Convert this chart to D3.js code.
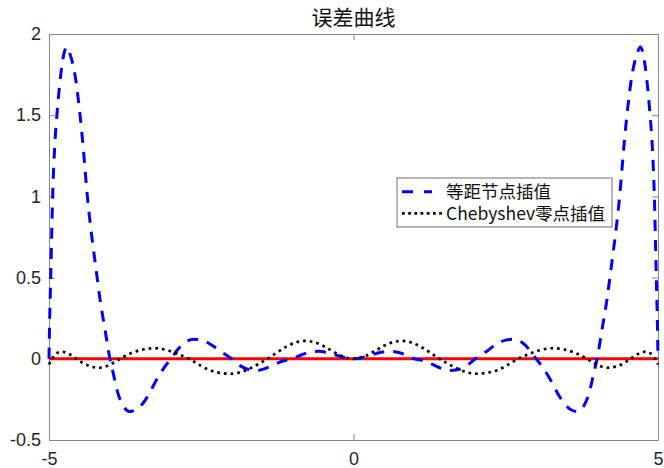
<!DOCTYPE html>
<html>
<head>
<meta charset="utf-8">
<script src="https://cdn.jsdelivr.net/npm/d3@7"></script>
<style>
  body { margin: 0; background: #fff; }
  svg { display: block; }
  .axis text { font-family: "Liberation Sans", Arial, sans-serif; font-size: 18px; fill: #262626; }
  .axis path, .axis line { stroke: #888; stroke-width: 1; }
</style>
</head>
<body>
<svg id="chart" width="664" height="468"></svg>
<script>
// values
const equiX = [-5.00, -4.995, -4.97, -4.94, -4.90, -4.87, -4.81, -4.76, -4.71, -4.65, -4.57, -4.49, -4.45, -4.37, -4.22, -4.16, -4.08, -4.00,
  -3.95, -3.87, -3.78, -3.68, -3.58, -3.47, -3.37, -3.25, -3.12, -3.00, -2.88, -2.77, -2.62, -2.50, -2.35, -2.20, -2.00,
  -1.85, -1.70, -1.58, -1.45, -1.30, -1.15, -1.00, -0.85, -0.70, -0.57, -0.45, -0.30, -0.15, 0.00,
  0.15, 0.30, 0.45, 0.57, 0.70, 0.85, 1.00, 1.15, 1.30, 1.45, 1.58, 1.70, 1.85, 2.00,
  2.20, 2.35, 2.50, 2.62, 2.77, 2.88, 3.00, 3.12, 3.25, 3.37, 3.47, 3.58, 3.68, 3.78, 3.87, 3.95,
  4.00, 4.08, 4.16, 4.22, 4.37, 4.45, 4.49, 4.57, 4.65, 4.71, 4.76, 4.81, 4.87, 4.90, 4.94, 4.97, 4.995, 5.00];
const equiErr = [0, 0.12, 0.53, 1.00, 1.35, 1.50, 1.74, 1.87, 1.92, 1.87, 1.74, 1.50, 1.35, 1.00, 0.53, 0.36, 0.18, 0,
  -0.08, -0.21, -0.29, -0.325, -0.315, -0.28, -0.225, -0.14, -0.06, 0, 0.06, 0.10, 0.12, 0.115, 0.09, 0.05, 0,
  -0.045, -0.068, -0.072, -0.06, -0.035, -0.012, 0, 0.025, 0.042, 0.046, 0.04, 0.025, 0.008, 0,
  0.008, 0.025, 0.04, 0.046, 0.042, 0.025, 0, -0.012, -0.035, -0.06, -0.072, -0.068, -0.045, 0,
  0.05, 0.09, 0.115, 0.12, 0.10, 0.06, 0, -0.06, -0.14, -0.225, -0.28, -0.315, -0.325, -0.29, -0.21, -0.08,
  0, 0.18, 0.36, 0.53, 1.00, 1.35, 1.50, 1.74, 1.87, 1.92, 1.87, 1.74, 1.50, 1.35, 1.00, 0.53, 0.12, 0];

const chebX = [-5.00, -4.95, -4.88, -4.79, -4.70, -4.62, -4.55, -4.45, -4.32, -4.18, -4.05, -3.95, -3.83, -3.65, -3.45, -3.26, -3.08, -2.90, -2.70,
  -2.52, -2.36, -2.18, -2.03, -1.88, -1.70, -1.55, -1.41, -1.25, -1.10, -0.95, -0.80, -0.65, -0.50, -0.35, -0.20, -0.08, 0.00,
  0.08, 0.20, 0.35, 0.50, 0.65, 0.80, 0.95, 1.10, 1.25, 1.41, 1.55, 1.70, 1.88, 2.03, 2.18, 2.36, 2.52,
  2.70, 2.90, 3.08, 3.26, 3.45, 3.65, 3.83, 3.95, 4.05, 4.18, 4.32, 4.45, 4.55, 4.62, 4.70, 4.79, 4.88, 4.95, 5.00];
const chebErr = [-0.035, 0, 0.032, 0.044, 0.035, 0.018, 0, -0.025, -0.047, -0.055, -0.045, -0.026, 0, 0.035, 0.058, 0.065, 0.055, 0.032, 0,
  -0.04, -0.07, -0.087, -0.092, -0.085, -0.06, -0.03, 0, 0.04, 0.075, 0.10, 0.11, 0.103, 0.08, 0.048, 0.018, 0.003, 0,
  0.003, 0.018, 0.048, 0.08, 0.103, 0.11, 0.10, 0.075, 0.04, 0, -0.03, -0.06, -0.085, -0.092, -0.087, -0.07, -0.04,
  0, 0.032, 0.055, 0.065, 0.058, 0.035, 0, -0.026, -0.045, -0.055, -0.047, -0.025, 0, 0.018, 0.035, 0.044, 0.032, 0, -0.035];

const zeroX = [-5, 5];
const zeroY = [0, 0];

const xTicks = [-5, 0, 5];
const yTicks = [-0.5, 0, 0.5, 1, 1.5, 2];
const legendLabels = ["等距节点插值", "Chebyshev零点插值"];

const margin = { top: 34, right: 6, bottom: 28, left: 49 };
const width = 664 - margin.left - margin.right;
const height = 468 - margin.top - margin.bottom;

const svg = d3.select("#chart");
const g = svg.append("g").attr("transform", `translate(${margin.left},${margin.top})`);

const x = d3.scaleLinear().domain([-5, 5]).range([0, width]);
const y = d3.scaleLinear().domain([-0.5, 2]).range([height, 0]);

// axes with inward ticks on all four sides (box on)
g.append("g").attr("class", "axis")
  .attr("transform", `translate(0,${height})`)
  .call(d3.axisBottom(x).tickValues(xTicks).tickSize(-6).tickSizeOuter(0).tickPadding(12).tickFormat(d => String(d)));
g.append("g").attr("class", "axis")
  .call(d3.axisTop(x).tickValues(xTicks).tickSize(-6).tickSizeOuter(0).tickFormat(""));
g.append("g").attr("class", "axis")
  .call(d3.axisLeft(y).tickValues(yTicks).tickSize(-6).tickSizeOuter(0).tickPadding(8).tickFormat(d => String(d)));
g.append("g").attr("class", "axis")
  .attr("transform", `translate(${width},0)`)
  .call(d3.axisRight(y).tickValues(yTicks).tickSize(-6).tickSizeOuter(0).tickFormat(""));

const line = d3.line().x(d => x(d[0])).y(d => y(d[1])).curve(d3.curveMonotoneX);

g.append("path")
  .datum(d3.zip(zeroX, zeroY))
  .attr("d", line)
  .attr("fill", "none").attr("stroke", "#ff0000").attr("stroke-width", 3);

g.append("path")
  .datum(d3.zip(equiX, equiErr))
  .attr("d", line)
  .attr("fill", "none").attr("stroke", "#0000ff").attr("stroke-width", 3)
  .attr("stroke-dasharray", "11,9");

g.append("path")
  .datum(d3.zip(chebX, chebErr))
  .attr("d", line)
  .attr("fill", "none").attr("stroke", "#000").attr("stroke-width", 2.7)
  .attr("stroke-dasharray", "2.7,4");

// title
svg.append("text")
  .attr("x", margin.left + width / 2).attr("y", 25)
  .attr("text-anchor", "middle")
  .style("font-family", "'Noto Sans CJK SC', sans-serif")
  .style("font-size", "21px").style("fill", "#111")
  .text("误差曲线");

// legend
const legend = svg.append("g").attr("transform", "translate(397,178)");
legend.append("rect")
  .attr("width", 215).attr("height", 49)
  .attr("fill", "#fff").attr("stroke", "#6e6e6e").attr("stroke-width", 1);

const styles = [
  { stroke: "#0000ff", width: 3, dash: "11,11", x2: 35 },
  { stroke: "#000", width: 2.7, dash: "2.7,3.5", x2: 48 }
];
legendLabels.forEach((label, i) => {
  const row = legend.append("g").attr("transform", `translate(0,${13.7 + i * 21.6})`);
  row.append("line")
    .attr("x1", 5).attr("x2", styles[i].x2)
    .attr("stroke", styles[i].stroke).attr("stroke-width", styles[i].width)
    .attr("stroke-dasharray", styles[i].dash);
  row.append("text")
    .attr("x", 49).attr("y", 6.5)
    .style("font-family", "'Noto Sans CJK SC', sans-serif")
    .style("font-size", "17.5px").style("fill", "#111")
    .text(label);
});
</script>
</body>
</html>
